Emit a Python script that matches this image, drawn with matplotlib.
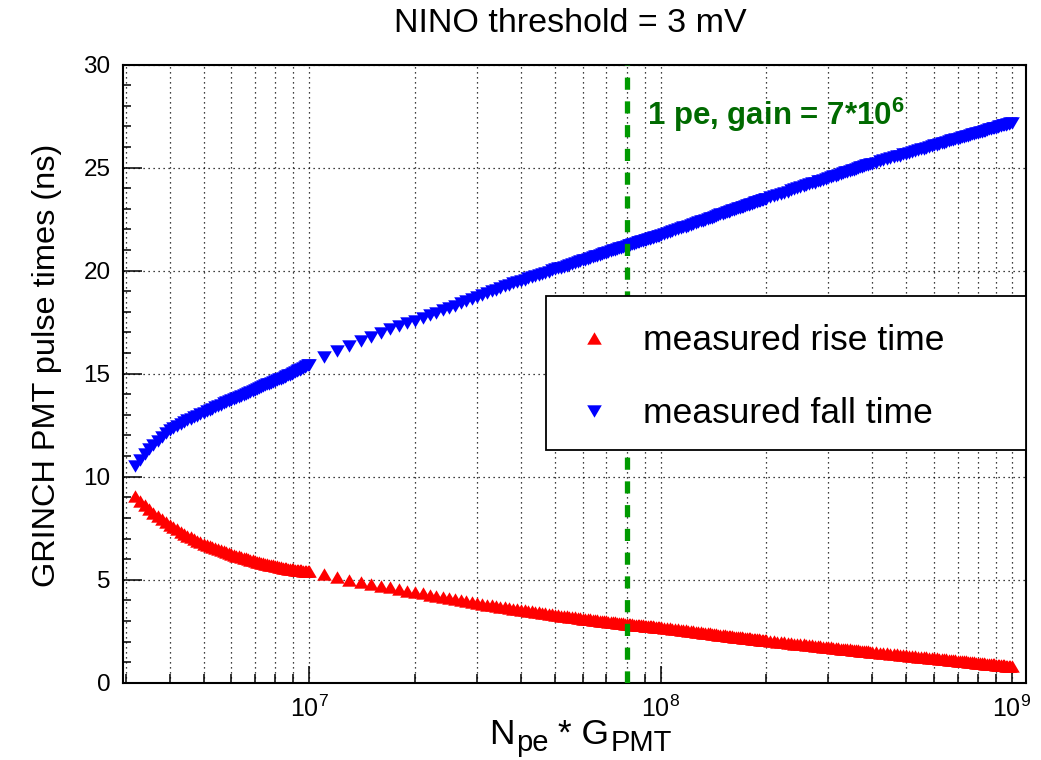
import matplotlib
matplotlib.use('Agg')
import matplotlib.pyplot as plt
import matplotlib.patches as patches
from matplotlib.ticker import LogLocator, MultipleLocator, NullFormatter

plt.rcParams['font.family'] = ['Liberation Sans', 'DejaVu Sans']
plt.rcParams['mathtext.fontset'] = 'custom'
plt.rcParams['mathtext.rm'] = 'Liberation Sans'
plt.rcParams['mathtext.it'] = 'Liberation Sans:italic'
plt.rcParams['mathtext.bf'] = 'Liberation Sans:bold'

# N_pe * G_PMT, in units of 1e6
npe_gain = [3.2, 3.3, 3.4, 3.5, 3.6, 3.7, 3.8, 3.9,
            4.0, 4.1, 4.2, 4.3, 4.4, 4.5, 4.6, 4.7, 4.8, 4.9,
            5.0, 5.1, 5.2, 5.3, 5.4, 5.5, 5.6, 5.7, 5.8, 5.9,
            6.0, 6.1, 6.2, 6.3, 6.4, 6.5, 6.6, 6.7, 6.8, 6.9,
            7.0, 7.1, 7.2, 7.3, 7.4, 7.5, 7.6, 7.7, 7.8, 7.9,
            8.0, 8.1, 8.2, 8.3, 8.4, 8.5, 8.6, 8.7, 8.8, 8.9,
            9.0, 9.1, 9.2, 9.3, 9.4, 9.5, 9.6, 9.7, 9.8, 9.9, 10.0,
            11, 12, 13, 14, 15, 16, 17, 18, 19, 20,
            21, 22, 23, 24, 25, 26, 27, 28, 29, 30,
            31, 32, 33, 34, 35, 36, 37, 38, 39, 40,
            41, 42, 43, 44, 45, 46, 47, 48, 49, 50,
            51, 52, 53, 54, 55, 56, 57, 58, 59, 60,
            61, 62, 63, 64, 65, 66, 67, 68, 69, 70,
            71, 72, 73, 74, 75, 76, 77, 78, 79, 80,
            81, 82, 83, 84, 85, 86, 87, 88, 89, 90,
            91, 92, 93, 94, 95, 96, 97, 98, 99, 100,
            102, 104, 106, 108, 110, 112, 114, 116, 118, 120,
            122, 124, 126, 128, 130, 132, 134, 136, 138, 140,
            142, 144, 146, 148, 150, 152, 154, 156, 158, 160,
            162, 164, 166, 168, 170, 172, 174, 176, 178, 180,
            182, 184, 186, 188, 190, 192, 194, 196, 198, 200,
            205, 210, 215, 220, 225, 230, 235, 240, 245, 250,
            255, 260, 265, 270, 275, 280, 285, 290, 295, 300,
            305, 310, 315, 320, 325, 330, 335, 340, 345, 350,
            355, 360, 365, 370, 375, 380, 385, 390, 395, 400,
            410, 420, 430, 440, 450, 460, 470, 480, 490, 500,
            510, 520, 530, 540, 550, 560, 570, 580, 590, 600,
            610, 620, 630, 640, 650, 660, 670, 680, 690, 700,
            710, 720, 730, 740, 750, 760, 770, 780, 790, 800,
            810, 820, 830, 840, 850, 860, 870, 880, 890, 900,
            910, 920, 930, 940, 950, 960, 970, 980, 990, 1000]

rise_ns = [9.05, 8.82, 8.61, 8.42, 8.25, 8.09, 7.94, 7.8,
           7.67, 7.55, 7.44, 7.33, 7.23, 7.14, 7.05, 6.97, 6.89, 6.82,
           6.75, 6.69, 6.63, 6.57, 6.52, 6.47, 6.42, 6.37, 6.33, 6.29,
           6.25, 6.21, 6.17, 6.13, 6.1, 6.06, 6.03, 6.0, 5.97, 5.94,
           5.91, 5.88, 5.85, 5.83, 5.8, 5.78, 5.75, 5.73, 5.71, 5.69,
           5.67, 5.65, 5.63, 5.61, 5.59, 5.57, 5.56, 5.54, 5.53, 5.51,
           5.5, 5.49, 5.48, 5.47, 5.46, 5.45, 5.44, 5.43, 5.42, 5.41, 5.4,
           5.27, 5.12, 5.0, 4.9, 4.8, 4.71, 4.63, 4.55, 4.47, 4.4,
           4.34, 4.28, 4.22, 4.17, 4.12, 4.07, 4.02, 3.97, 3.92, 3.87,
           3.83, 3.79, 3.76, 3.73, 3.69, 3.66, 3.62, 3.59, 3.56, 3.53,
           3.51, 3.48, 3.46, 3.44, 3.41, 3.39, 3.37, 3.35, 3.32, 3.3,
           3.28, 3.26, 3.24, 3.22, 3.2, 3.19, 3.17, 3.15, 3.13, 3.11,
           3.1, 3.08, 3.07, 3.05, 3.04, 3.03, 3.01, 3.0, 2.99, 2.98,
           2.96, 2.95, 2.94, 2.93, 2.92, 2.9, 2.89, 2.88, 2.87, 2.86,
           2.85, 2.84, 2.83, 2.82, 2.81, 2.8, 2.8, 2.79, 2.78, 2.77,
           2.76, 2.75, 2.75, 2.74, 2.73, 2.72, 2.72, 2.71, 2.7, 2.69,
           2.67, 2.65, 2.64, 2.62, 2.6, 2.59, 2.57, 2.55, 2.54, 2.52,
           2.51, 2.49, 2.48, 2.46, 2.45, 2.43, 2.42, 2.41, 2.39, 2.38,
           2.37, 2.35, 2.34, 2.33, 2.32, 2.3, 2.29, 2.28, 2.27, 2.26,
           2.24, 2.23, 2.22, 2.21, 2.2, 2.19, 2.18, 2.17, 2.16, 2.15,
           2.14, 2.13, 2.12, 2.11, 2.1, 2.09, 2.08, 2.07, 2.06, 2.05,
           2.03, 2.01, 1.99, 1.97, 1.96, 1.94, 1.92, 1.9, 1.89, 1.87,
           1.86, 1.84, 1.83, 1.81, 1.8, 1.78, 1.77, 1.75, 1.74, 1.73,
           1.71, 1.7, 1.69, 1.68, 1.66, 1.65, 1.64, 1.63, 1.62, 1.61,
           1.59, 1.58, 1.57, 1.56, 1.55, 1.54, 1.53, 1.52, 1.51, 1.5,
           1.48, 1.46, 1.44, 1.43, 1.41, 1.39, 1.38, 1.36, 1.34, 1.33,
           1.31, 1.3, 1.28, 1.27, 1.26, 1.24, 1.23, 1.22, 1.2, 1.19,
           1.18, 1.17, 1.15, 1.14, 1.13, 1.12, 1.11, 1.09, 1.08, 1.07,
           1.06, 1.05, 1.04, 1.03, 1.02, 1.01, 1.0, 0.99, 0.98, 0.97,
           0.96, 0.95, 0.94, 0.93, 0.92, 0.91, 0.91, 0.9, 0.89, 0.88,
           0.87, 0.86, 0.86, 0.85, 0.84, 0.83, 0.82, 0.81, 0.81, 0.8]

fall_ns = [10.5, 10.8, 11.08, 11.33, 11.55, 11.75, 11.93, 12.1,
           12.25, 12.36, 12.46, 12.55, 12.64, 12.73, 12.81, 12.89, 12.97, 13.04,
           13.11, 13.18, 13.25, 13.31, 13.37, 13.44, 13.5, 13.56, 13.61, 13.67,
           13.72, 13.78, 13.83, 13.88, 13.93, 13.98, 14.03, 14.08, 14.13, 14.17,
           14.22, 14.26, 14.31, 14.35, 14.39, 14.44, 14.48, 14.52, 14.56, 14.6,
           14.64, 14.68, 14.72, 14.76, 14.8, 14.84, 14.88, 14.92, 14.96, 15.0,
           15.04, 15.08, 15.12, 15.16, 15.2, 15.24, 15.28, 15.32, 15.36, 15.4, 15.44,
           15.8, 16.1, 16.35, 16.58, 16.8, 16.98, 17.15, 17.3, 17.45, 17.58,
           17.72, 17.85, 17.97, 18.09, 18.2, 18.31, 18.42, 18.53, 18.64, 18.74,
           18.83, 18.92, 19.0, 19.08, 19.16, 19.24, 19.31, 19.38, 19.45, 19.51,
           19.57, 19.63, 19.69, 19.75, 19.8, 19.86, 19.91, 19.96, 20.01, 20.06,
           20.11, 20.15, 20.2, 20.25, 20.29, 20.33, 20.38, 20.42, 20.46, 20.5,
           20.54, 20.58, 20.62, 20.66, 20.7, 20.73, 20.77, 20.81, 20.84, 20.88,
           20.91, 20.95, 20.98, 21.01, 21.04, 21.08, 21.11, 21.14, 21.17, 21.2,
           21.23, 21.26, 21.29, 21.31, 21.34, 21.37, 21.39, 21.42, 21.45, 21.47,
           21.5, 21.52, 21.55, 21.57, 21.6, 21.62, 21.65, 21.67, 21.7, 21.72,
           21.77, 21.82, 21.87, 21.92, 21.96, 22.01, 22.06, 22.1, 22.14, 22.19,
           22.23, 22.27, 22.31, 22.35, 22.39, 22.43, 22.47, 22.51, 22.55, 22.58,
           22.62, 22.66, 22.69, 22.73, 22.76, 22.79, 22.83, 22.86, 22.89, 22.93,
           22.96, 22.99, 23.02, 23.05, 23.08, 23.11, 23.14, 23.17, 23.2, 23.23,
           23.26, 23.28, 23.31, 23.34, 23.37, 23.39, 23.42, 23.45, 23.47, 23.5,
           23.56, 23.62, 23.68, 23.73, 23.79, 23.84, 23.9, 23.95, 24.0, 24.05,
           24.1, 24.14, 24.19, 24.24, 24.28, 24.33, 24.37, 24.41, 24.45, 24.5,
           24.54, 24.58, 24.61, 24.65, 24.69, 24.73, 24.77, 24.8, 24.84, 24.87,
           24.91, 24.94, 24.98, 25.01, 25.04, 25.07, 25.11, 25.14, 25.17, 25.2,
           25.25, 25.31, 25.36, 25.41, 25.45, 25.5, 25.55, 25.59, 25.64, 25.68,
           25.73, 25.77, 25.81, 25.85, 25.89, 25.93, 25.97, 26.0, 26.04, 26.08,
           26.11, 26.15, 26.18, 26.22, 26.25, 26.28, 26.32, 26.35, 26.38, 26.41,
           26.44, 26.47, 26.5, 26.53, 26.56, 26.59, 26.62, 26.64, 26.67, 26.7,
           26.73, 26.75, 26.78, 26.8, 26.83, 26.86, 26.88, 26.91, 26.93, 26.95,
           26.98, 27.0, 27.02, 27.05, 27.07, 27.09, 27.12, 27.14, 27.16, 27.18]

one_pe = 80  # position of the 1 pe line, units of 1e6
labels = ['measured rise time', 'measured fall time']

x = [v * 1e6 for v in npe_gain]

# ROOT style triangles, centred on their bounding box
tri_up = [(0, 0.85), (-1, -0.85), (1, -0.85)]
tri_down = [(0, -0.85), (-1, 0.85), (1, 0.85)]

fig = plt.figure(figsize=(10.41, 7.6), dpi=100)
ax = fig.add_axes([0.1182, 0.1017, 0.8674, 0.8132])

ax.plot(x, rise_ns, linestyle='none', marker=tri_up, markersize=10.5,
        markeredgewidth=0, color='#ff0000', label=labels[0])
ax.plot(x, fall_ns, linestyle='none', marker=tri_down, markersize=10.5,
        markeredgewidth=0, color='#0000ff', label=labels[1])

ax.axvline(one_pe * 1e6, color='#009a00', linewidth=3.8,
           linestyle=(0, (2.3, 2.2)), zorder=3)
ax.text(91.5e6, 27.55, '1 pe, gain = 7*10$^{\\mathbf{6}}$', color='#006a00',
        fontsize=22.5, fontweight='bold', ha='left', va='center')

ax.set_xscale('log')
ax.set_xlim(2.95e6, 1.096e9)
ax.set_ylim(0, 30)
ax.xaxis.set_major_locator(LogLocator(base=10))
ax.xaxis.set_minor_locator(LogLocator(base=10, subs=range(2, 10)))
ax.xaxis.set_minor_formatter(NullFormatter())
ax.yaxis.set_major_locator(MultipleLocator(5))
ax.yaxis.set_minor_locator(MultipleLocator(1))

ax.grid(True, which='major', axis='y', color='black', linestyle=(0, (1, 3)), linewidth=0.9)
ax.grid(True, which='both', axis='x', color='black', linestyle=(0, (1, 3)), linewidth=0.9)
ax.set_axisbelow(True)

ax.tick_params(axis='both', which='both', direction='in', top=False, right=False, width=1.1)
ax.tick_params(axis='y', which='major', length=13.5, pad=9, labelsize=17.5)
ax.tick_params(axis='y', which='minor', length=6)
ax.tick_params(axis='x', which='major', length=12, pad=9, labelsize=18)
ax.tick_params(axis='x', which='minor', length=6.5)
for s in ax.spines.values():
    s.set_linewidth(1.5)

# x title written piece by piece: ROOT subscripts are larger than mathtext ones
big, small = 25.5, 21
t_n = fig.text(489 / 1041, 1 - 744 / 760, 'N', fontsize=big, ha='left', va='baseline')
t_pe = ax.annotate('pe', xy=(1, 0), xycoords=t_n, xytext=(1, 0), textcoords='offset points',
                   fontsize=small, ha='left', va='baseline', annotation_clip=False)
t_g = ax.annotate(' * G', xy=(1, 0), xycoords=(t_pe, t_n), fontsize=big,
                  ha='left', va='bottom', annotation_clip=False)
ax.annotate('PMT', xy=(1, 0), xycoords=t_g, xytext=(1, 0), textcoords='offset points',
            fontsize=small, ha='left', va='baseline', annotation_clip=False)

ax.set_ylabel('GRINCH PMT pulse times (ns)', fontsize=23.4)
ax.yaxis.set_label_coords(-0.0676, 0.514)
fig.text(0.548, 0.969, 'NINO threshold = 3 mV', fontsize=24.5, ha='center', va='center')

# legend box drawn on its own so the padding matches the reference
box = patches.Rectangle((0.4684, 0.3765), 0.5316, 0.2492, transform=ax.transAxes,
                        facecolor='white', edgecolor='black', linewidth=1.3, zorder=4)
ax.add_patch(box)
leg = ax.legend(loc='upper left', bbox_to_anchor=(0.4941, 0.5804), borderaxespad=0,
                fontsize=25.5, frameon=False, borderpad=0, labelspacing=1.14,
                handlelength=1.4, handletextpad=0.68)
leg.set_zorder(5)

fig.savefig('out.png', dpi=100)
